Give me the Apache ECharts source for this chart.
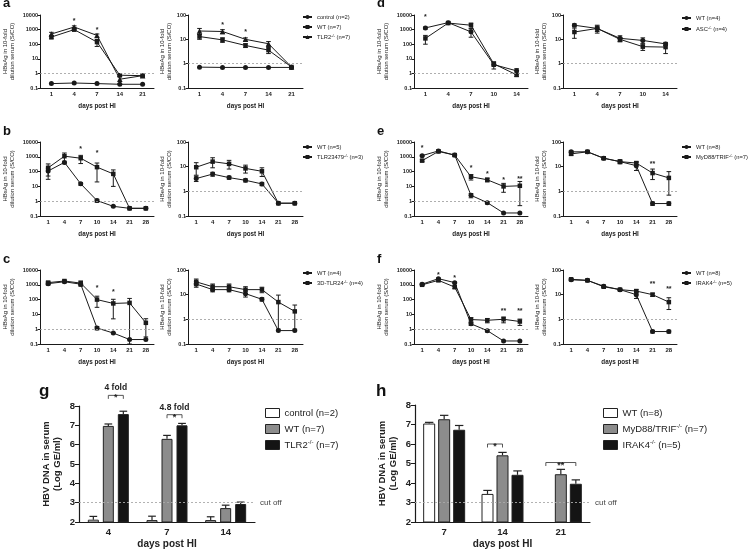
<!DOCTYPE html>
<html><head><meta charset="utf-8">
<script src="https://cdn.jsdelivr.net/npm/echarts@6/dist/echarts.min.js"></script>
<style>html,body{margin:0;padding:0;background:#fff}#c{width:751px;height:551px}</style>
</head><body><div id="c"></div>
<script>
// ================= DATA =================
const daysA = ['1','4','7','14','21'];
const daysLong = ['1','4','7','10','14','21','28'];
const daysD = ['1','4','7','10','14'];

// panel a
const aNames = ['control (n=2)', 'WT (n=7)', 'TLR2-/- (n=7)'];
const aS_ctrl = [0.2, 0.22, 0.2, 0.18, 0.18];
const aS_wt = [310, 1000, 140, 0.75, 0.7];
const aS_wtErr = [80, 200, 70, 0.15, 0.05];
const aS_ko = [500, 1500, 400, 0.4, 0.7];
const aS_koErr = [150, 300, 100, 0.2, 0.05];
const aS_stars = [[1, 3900, '*'], [2, 1000, '*']];
const aE_ctrl = [0.72, 0.7, 0.7, 0.7, 0.7];
const aE_wt = [13, 9.5, 5.6, 3.6, 0.73];
const aE_wtErr = [3, 2, 1, 1, 0.02];
const aE_ko = [22, 21, 10, 6.6, 0.73];
const aE_koErr = [6, 4, 1.5, 1.5, 0.02];
const aE_stars = [[1, 40, '*'], [2, 20, '*']];

// panel b
const bNames = ['WT (n=5)', 'TLR23479-/- (n=3)'];
const bS_wt = [110, 420, 15, 1.1, 0.45, 0.33, 0.33];
const bS_wtErr = [60, 80, 3, 0.25, 0.03, 0, 0];
const bS_ko = [180, 1100, 800, 200, 70, 0.33, 0.33];
const bS_koErr = [150, 700, 450, 180, 60, 0, 0];
const bS_stars = [[2, 3500, '*'], [3, 1800, '*']];
const bE_wt = [3.3, 5, 3.6, 2.8, 2, 0.33, 0.33];
const bE_wtErr = [0.8, 0.9, 0.5, 0.4, 0.3, 0, 0];
const bE_ko = [9.5, 16, 13, 8.5, 6.5, 0.33, 0.33];
const bE_koErr = [5, 7, 5, 3, 2.5, 0, 0];

// panel c
const cNames = ['WT (n=4)', '3D-TLR24-/- (n=4)'];
const cS_wt = [1200, 1600, 1100, 1.2, 0.55, 0.2, 0.2];
const cS_wtErr = [250, 200, 150, 0.3, 0.02, 0, 0];
const cS_ko = [1400, 1800, 1300, 100, 55, 60, 2.7];
const cS_koErr = [300, 300, 500, 70, 50, 60, 2.4];
const cS_stars = [[3, 650, '*'], [4, 300, '*']];
const cE_wt = [27, 16, 16, 11, 6.5, 0.35, 0.35];
const cE_wtErr = [7, 3, 3, 3, 1, 0, 0];
const cE_ko = [33, 21, 21, 16, 16, 5, 2.1];
const cE_koErr = [10, 6, 6, 5, 4, 4.6, 1.7];

// panel d
const dNames = ['WT (n=4)', 'ASC-/- (n=4)'];
const dS_wt = [1300, 3000, 700, 4, 1.5];
const dS_wtErr = [200, 400, 400, 2, 0.6];
const dS_ko = [250, 2800, 2000, 4.5, 0.8];
const dS_koErr = [150, 300, 800, 1.5, 0.2];
const dS_stars = [[0, 7300, '*']];
const dE_wt = [38, 28, 11, 9, 6.5];
const dE_wtErr = [5, 10, 3, 2.5, 1];
const dE_ko = [20, 28, 10, 5, 4.8];
const dE_koErr = [9, 7, 2, 1.5, 2.2];

// panel e
const eNames = ['WT (n=8)', 'MyD88/TRIF-/- (n=7)'];
const eS_wt = [1200, 2500, 1300, 2.5, 0.8, 0.16, 0.16];
const eS_wtErr = [100, 300, 200, 0.8, 0.15, 0, 0];
const eS_ko = [550, 2300, 1300, 45, 28, 10, 11];
const eS_koErr = [80, 300, 150, 18, 8, 6, 10.5];
const eS_stars = [[0, 4100, '*'], [3, 180, '*'], [4, 70, '*'], [5, 27, '*'], [6, 32, '**']];
const eE_wt = [40, 40, 22, 16, 11, 0.32, 0.32];
const eE_wtErr = [4, 3, 2, 2, 4, 0.05, 0.05];
const eE_ko = [33, 40, 22, 16, 14, 5.5, 3.5];
const eE_koErr = [4, 3, 2, 3, 2, 2.5, 2.8];
const eE_stars = [[5, 13, '**']];

// panel f
const fNames = ['WT (n=8)', 'IRAK4-/- (n=5)'];
const fS_wt = [1100, 2600, 1400, 2.3, 0.8, 0.16, 0.16];
const fS_wtErr = [100, 300, 150, 0.5, 0.15, 0, 0];
const fS_ko = [1000, 2000, 700, 4.5, 4, 4.7, 3.3];
const fS_koErr = [100, 300, 150, 1.5, 1.3, 2, 1.5];
const fS_stars = [[1, 4600, '*'], [2, 3000, '*'], [5, 16, '**'], [6, 16, '**']];
const fE_wt = [40, 38, 22, 16, 10, 0.32, 0.32];
const fE_wtErr = [3, 2, 2, 1, 3, 0.04, 0.04];
const fE_ko = [42, 38, 21, 16, 14, 10, 5];
const fE_koErr = [3, 2, 2, 1, 2, 1.5, 2.5];
const fE_stars = [[5, 26, '**'], [6, 17, '**']];

// panel g (bars)
const gCats = ['4', '7', '14'];
const gNames = ['control (n=2)', 'WT (n=7)', 'TLR2-/- (n=7)'];
const gCtrl = [2.12, 2.1, 2.1];
const gCtrlErr = [0.17, 0.2, 0.17];
const gWT = [6.97, 6.3, 2.72];
const gWTErr = [0.1, 0.18, 0.15];
const gKO = [7.58, 7.0, 2.93];
const gKOErr = [0.15, 0.1, 0.1];
const gBrackets = [[0, 1, 2, 8.55, '*', '4 fold'], [1, 1, 2, 7.55, '*', '4.8 fold']];

// panel h (bars)
const hCats = ['7', '14', '21'];
const hNames = ['WT (n=8)', 'MyD88/TRIF-/- (n=7)', 'IRAK4-/- (n=5)'];
const hWT = [7.05, 3.44, 2.02];
const hWTErr = [0.06, 0.18, 0];
const hMyD = [7.27, 5.42, 4.45];
const hMyDErr = [0.2, 0.15, 0.25];
const hIRAK = [6.73, 4.42, 3.96];
const hIRAKErr = [0.22, 0.2, 0.2];
const hBrackets = [[1, 0, 1, 6.0, '*', ''], [2, 0, 2, 5.05, '**', '']];

const cutOff = 3;

// ================= BUILD =================
const FONT = "'Liberation Sans', Arial, sans-serif";
const INK = '#1a1a1a';
const grids = [], xAxes = [], yAxes = [], series = [], legends = [], titles = [];
const Z = '\u200b';
let uid = 0;
function uniq(n){ uid++; return n + Z.repeat(uid); }
function legendFmt(n){
  n = n.replace(/\u200b/g, '');
  return n.replace('-/-', '{sup|-/-}');
}
const sNameS = 'HBsAg in 10-fold\ndilution serum (S/CO)';
const sNameE = 'HBeAg in 10-fold\ndilution serum (S/CO)';

function errRender(yMin){
  return function(params, api){
    const i = api.value(0), m = api.value(1), e = api.value(2);
    if (!e) return null;
    const lo = Math.max(m - e, yMin), hi = m + e;
    const pH = api.coord([i, hi]), pL = api.coord([i, lo]);
    const x = pH[0], st = {stroke: INK, lineWidth: 1};
    return {type: 'group', children: [
      {type: 'line', shape: {x1: x, y1: pH[1], x2: x, y2: pL[1]}, style: st},
      {type: 'line', shape: {x1: x - 2.3, y1: pH[1], x2: x + 2.3, y2: pH[1]}, style: st},
      {type: 'line', shape: {x1: x - 2.3, y1: pL[1], x2: x + 2.3, y2: pL[1]}, style: st}
    ]};
  };
}

function addLinePanel(p){
  const gi = grids.length;
  grids.push({left: p.left, top: p.top, width: p.width, height: p.height});
  xAxes.push({type: 'category', gridIndex: gi, data: p.cats, boundaryGap: true,
    axisLine: {lineStyle: {color: INK, width: 1}},
    axisTick: {alignWithLabel: true, length: 2.5, lineStyle: {color: INK}},
    axisLabel: {fontSize: 6, fontWeight: 'bold', color: '#222', margin: 3, fontFamily: FONT, interval: 0},
    name: 'days post HI', nameLocation: 'middle', nameGap: 15,
    nameTextStyle: {fontSize: 6.3, fontWeight: 'bold', color: '#222', fontFamily: FONT}});
  yAxes.push({type: 'log', logBase: 10, gridIndex: gi, min: p.yMin, max: p.yMax,
    axisLine: {show: true, lineStyle: {color: INK, width: 1}},
    axisTick: {show: true, length: 2.5, lineStyle: {color: INK}},
    splitLine: {show: false},
    axisLabel: {fontSize: 5.5, fontWeight: 'bold', color: '#222', margin: 2, fontFamily: FONT,
      formatter: v => String(+(+v).toPrecision(4))},
    name: p.yName, nameLocation: 'middle', nameGap: p.nameGap, nameRotate: 90,
    nameTextStyle: {fontSize: 6, color: '#222', fontFamily: FONT, lineHeight: 7}});
  const legendNames = [];
  p.series.forEach((s, k) => {
    const nm = uniq(s.name);
    legendNames.push(nm);
    const ser = {type: 'line', name: nm, xAxisIndex: gi, yAxisIndex: gi, data: s.data,
      symbol: s.sym, symbolSize: s.size || 5, itemStyle: {color: INK}, lineStyle: {color: INK, width: 1},
      z: 3, animation: false};
    if (k === 0) ser.markLine = {silent: true, symbol: ['none', 'none'], animation: false,
      lineStyle: {type: [2, 2], color: '#9a9a9a', width: 0.8}, label: {show: false}, data: [{yAxis: 1}]};
    series.push(ser);
    if (s.err) series.push({type: 'custom', xAxisIndex: gi, yAxisIndex: gi, silent: true, z: 2, animation: false,
      data: s.data.map((v, i) => [i, v, s.err[i]]), encode: {x: 0, y: 1}, renderItem: errRender(p.yMin)});
  });
  if (p.stars) {
    const st = p.stars;
    series.push({type: 'custom', xAxisIndex: gi, yAxisIndex: gi, silent: true, z: 4, animation: false,
      data: st.map(s => [s[0], s[1]]), encode: {x: 0, y: 1},
      renderItem: (params, api) => {
        const c = api.coord([api.value(0), api.value(1)]);
        return {type: 'text', x: c[0], y: c[1], style: {text: st[params.dataIndex][2], fill: '#222',
          font: 'bold 7px ' + FONT, align: 'center', verticalAlign: 'middle', textAlign: 'center', textVerticalAlign: 'middle'}};
      }});
  }
  if (p.legend) legends.push({data: legendNames, left: p.legend[0], top: p.legend[1], orient: 'vertical',
    itemWidth: 9, itemHeight: 5, itemGap: p.legend[2] || 4, padding: 0,
    formatter: legendFmt,
    textStyle: {fontSize: 5.8, color: '#222', fontFamily: FONT, lineHeight: 6,
      rich: {sup: {fontSize: 4, verticalAlign: 'top', lineHeight: 6, padding: [0, 0, 3, 0]}}}});
}

const cols = [[40, 114], [188, 115], [414, 114], [563, 114]];
const rows = [[15, 73], [142, 74], [270, 74]];
function L(col, row, extra){
  return Object.assign({left: cols[col][0], width: cols[col][1], top: rows[row][0], height: rows[row][1]}, extra);
}
const gapS = 24, gapE = 10;
// a
addLinePanel(L(0, 0, {cats: daysA, yMin: 0.1, yMax: 10000, yName: sNameS, nameGap: gapS, stars: aS_stars, series: [
  {name: aNames[0], data: aS_ctrl, sym: 'circle'},
  {name: aNames[1], data: aS_wt, err: aS_wtErr, sym: 'rect', size: 4.5},
  {name: aNames[2], data: aS_ko, err: aS_koErr, sym: 'triangle', size: 5.5}]}));
addLinePanel(L(1, 0, {cats: daysA, yMin: 0.1, yMax: 100, yName: sNameE, nameGap: gapE, stars: aE_stars, legend: [302, 14, 4], series: [
  {name: aNames[0], data: aE_ctrl, sym: 'circle'},
  {name: aNames[1], data: aE_wt, err: aE_wtErr, sym: 'rect', size: 4.5},
  {name: aNames[2], data: aE_ko, err: aE_koErr, sym: 'triangle', size: 5.5}]}));
// b
addLinePanel(L(0, 1, {cats: daysLong, yMin: 0.1, yMax: 10000, yName: sNameS, nameGap: gapS, stars: bS_stars, series: [
  {name: bNames[0], data: bS_wt, err: bS_wtErr, sym: 'circle'},
  {name: bNames[1], data: bS_ko, err: bS_koErr, sym: 'rect', size: 4.5}]}));
addLinePanel(L(1, 1, {cats: daysLong, yMin: 0.1, yMax: 100, yName: sNameE, nameGap: gapE, legend: [302, 144, 4], series: [
  {name: bNames[0], data: bE_wt, err: bE_wtErr, sym: 'circle'},
  {name: bNames[1], data: bE_ko, err: bE_koErr, sym: 'rect', size: 4.5}]}));
// c
addLinePanel(L(0, 2, {cats: daysLong, yMin: 0.1, yMax: 10000, yName: sNameS, nameGap: gapS, stars: cS_stars, series: [
  {name: cNames[0], data: cS_wt, err: cS_wtErr, sym: 'circle'},
  {name: cNames[1], data: cS_ko, err: cS_koErr, sym: 'rect', size: 4.5}]}));
addLinePanel(L(1, 2, {cats: daysLong, yMin: 0.1, yMax: 100, yName: sNameE, nameGap: gapE, legend: [302, 270, 4], series: [
  {name: cNames[0], data: cE_wt, err: cE_wtErr, sym: 'circle'},
  {name: cNames[1], data: cE_ko, err: cE_koErr, sym: 'rect', size: 4.5}]}));
// d
addLinePanel(L(2, 0, {cats: daysD, yMin: 0.1, yMax: 10000, yName: sNameS, nameGap: gapS, stars: dS_stars, series: [
  {name: dNames[0], data: dS_wt, err: dS_wtErr, sym: 'circle'},
  {name: dNames[1], data: dS_ko, err: dS_koErr, sym: 'rect', size: 4.5}]}));
addLinePanel(L(3, 0, {cats: daysD, yMin: 0.1, yMax: 100, yName: sNameE, nameGap: gapE, legend: [681, 15, 5], series: [
  {name: dNames[0], data: dE_wt, err: dE_wtErr, sym: 'circle'},
  {name: dNames[1], data: dE_ko, err: dE_koErr, sym: 'rect', size: 4.5}]}));
// e
addLinePanel(L(2, 1, {cats: daysLong, yMin: 0.1, yMax: 10000, yName: sNameS, nameGap: gapS, stars: eS_stars, series: [
  {name: eNames[0], data: eS_wt, err: eS_wtErr, sym: 'circle'},
  {name: eNames[1], data: eS_ko, err: eS_koErr, sym: 'rect', size: 4.5}]}));
addLinePanel(L(3, 1, {cats: daysLong, yMin: 0.1, yMax: 100, yName: sNameE, nameGap: gapE, stars: eE_stars, legend: [681, 144, 4], series: [
  {name: eNames[0], data: eE_wt, err: eE_wtErr, sym: 'circle'},
  {name: eNames[1], data: eE_ko, err: eE_koErr, sym: 'rect', size: 4.5}]}));
// f
addLinePanel(L(2, 2, {cats: daysLong, yMin: 0.1, yMax: 10000, yName: sNameS, nameGap: gapS, stars: fS_stars, series: [
  {name: fNames[0], data: fS_wt, err: fS_wtErr, sym: 'circle'},
  {name: fNames[1], data: fS_ko, err: fS_koErr, sym: 'rect', size: 4.5}]}));
addLinePanel(L(3, 2, {cats: daysLong, yMin: 0.1, yMax: 100, yName: sNameE, nameGap: gapE, stars: fE_stars, legend: [681, 270, 4], series: [
  {name: fNames[0], data: fE_wt, err: fE_wtErr, sym: 'circle'},
  {name: fNames[1], data: fE_ko, err: fE_koErr, sym: 'rect', size: 4.5}]}));

// ---- bar panels ----
function addBarPanel(p){
  const gi = grids.length;
  grids.push({left: p.left, top: p.top, width: p.width, height: p.height});
  xAxes.push({type: 'category', gridIndex: gi, data: p.cats,
    axisLine: {lineStyle: {color: INK, width: 1.2}},
    axisTick: {alignWithLabel: true, length: 3, lineStyle: {color: INK}},
    axisLabel: {fontSize: 9.5, fontWeight: 'bold', color: '#222', margin: 5, fontFamily: FONT},
    name: 'days post HI', nameLocation: 'middle', nameGap: 17,
    nameTextStyle: {fontSize: 10, fontWeight: 'bold', color: '#222', fontFamily: FONT}});
  yAxes.push({type: 'value', gridIndex: gi, min: 2, max: 8, interval: 1,
    axisLine: {show: true, lineStyle: {color: INK, width: 1.2}},
    axisTick: {show: true, length: 4, lineStyle: {color: INK}},
    splitLine: {show: false},
    axisLabel: {fontSize: 9.5, fontWeight: 'bold', color: '#222', margin: 4, fontFamily: FONT},
    name: 'HBV DNA in serum\n(Log GE/ml)', nameLocation: 'middle', nameGap: 16, nameRotate: 90,
    nameTextStyle: {fontSize: 9.5, fontWeight: 'bold', color: '#222', fontFamily: FONT, lineHeight: 11}});
  const w = p.barW, g = p.gap;
  const names = [];
  p.groups.forEach((grp, k) => {
    const nm = uniq(grp.name);
    names.push(nm);
    const ser = {type: 'bar', name: nm, xAxisIndex: gi, yAxisIndex: gi, data: grp.data,
      barWidth: w, barGap: (g / w * 100) + '%', animation: false, z: 2,
      itemStyle: {color: grp.color, borderColor: '#222', borderWidth: 1}};
    if (k === 0) ser.markLine = {silent: true, symbol: ['none', 'none'], animation: false,
      lineStyle: {type: [2, 2], color: '#aaaaaa', width: 0.9},
      label: {show: true, position: 'end', formatter: 'cut off', fontSize: 8, color: '#444', fontFamily: FONT, distance: 5},
      data: [{yAxis: cutOff}]};
    series.push(ser);
    const off = (k - 1) * (w + g);
    series.push({type: 'custom', xAxisIndex: gi, yAxisIndex: gi, silent: true, z: 1, animation: false,
      data: grp.data.map((v, i) => [i, v, grp.err[i]]), encode: {x: 0, y: 1},
      renderItem: (params, api) => {
        const e = api.value(2);
        if (!e) return null;
        const pM = api.coord([api.value(0), api.value(1)]);
        const pH = api.coord([api.value(0), api.value(1) + e]);
        const x = pM[0] + off, st = {stroke: '#222', lineWidth: 1.2};
        return {type: 'group', children: [
          {type: 'line', shape: {x1: x, y1: pM[1], x2: x, y2: pH[1]}, style: st},
          {type: 'line', shape: {x1: x - w * 0.35, y1: pH[1], x2: x + w * 0.35, y2: pH[1]}, style: st}]};
      }});
  });
  const br = p.brackets;
  series.push({type: 'custom', xAxisIndex: gi, yAxisIndex: gi, silent: true, z: 5, animation: false,
    data: br.map(b => [b[0], b[3]]), encode: {x: 0, y: 1},
    renderItem: (params, api) => {
      const b = br[params.dataIndex];
      const c = api.coord([api.value(0), api.value(1)]);
      const x1 = c[0] + (b[1] - 1) * (w + g), x2 = c[0] + (b[2] - 1) * (w + g), y = c[1];
      const kids = [
        {type: 'polyline', shape: {points: [[x1, y + 3.5], [x1, y], [x2, y], [x2, y + 3.5]]}, style: {stroke: '#444', lineWidth: 0.9, fill: null}},
        {type: 'text', x: (x1 + x2) / 2, y: y + 2.5, style: {text: b[4], fill: '#222', font: 'bold 9px ' + FONT,
          align: 'center', verticalAlign: 'middle', textAlign: 'center', textVerticalAlign: 'middle'}}];
      if (b[5]) kids.push({type: 'text', x: (x1 + x2) / 2, y: y - 3, style: {text: b[5], fill: '#222', font: 'bold 8.5px ' + FONT,
        align: 'center', verticalAlign: 'bottom', textAlign: 'center', textVerticalAlign: 'bottom'}});
      return {type: 'group', children: kids};
    }});
  legends.push({data: names, left: p.legend[0], top: p.legend[1], orient: 'vertical', icon: 'rect',
    itemWidth: 14, itemHeight: 9, itemGap: 4, padding: 0, formatter: legendFmt,
    itemStyle: {borderColor: '#222', borderWidth: 1},
    textStyle: {fontSize: 9.5, color: '#222', fontFamily: FONT, lineHeight: 12,
      rich: {sup: {fontSize: 6, verticalAlign: 'top', lineHeight: 12, padding: [0, 0, 5, 0]}}}});
}

addBarPanel({left: 79, top: 406, width: 176, height: 116, cats: gCats, barW: 11, gap: 4,
  brackets: gBrackets, legend: [265, 407], groups: [
    {name: gNames[0], data: gCtrl, err: gCtrlErr, color: '#ffffff'},
    {name: gNames[1], data: gWT, err: gWTErr, color: '#8c8c8c'},
    {name: gNames[2], data: gKO, err: gKOErr, color: '#141414'}]});
addBarPanel({left: 415, top: 405, width: 175, height: 117, cats: hCats, barW: 12, gap: 3,
  brackets: hBrackets, legend: [603, 407], groups: [
    {name: hNames[0], data: hWT, err: hWTErr, color: '#ffffff'},
    {name: hNames[1], data: hMyD, err: hMyDErr, color: '#8c8c8c'},
    {name: hNames[2], data: hIRAK, err: hIRAKErr, color: '#141414'}]});

// panel letters
[['a', 3, -3, 13], ['b', 3, 125, 13], ['c', 3, 253, 13], ['d', 377, -3, 13], ['e', 377, 125, 13], ['f', 377, 253, 13],
 ['g', 39, 383, 17], ['h', 376, 383, 17]].forEach(t => titles.push({text: t[0], left: t[1], top: t[2], padding: 0,
  textStyle: {fontSize: t[3], fontWeight: 'bold', color: '#111', fontFamily: FONT}}));

const chart = echarts.init(document.getElementById('c'), null, {renderer: 'canvas'});
chart.setOption({animation: false, backgroundColor: '#fff', textStyle: {fontFamily: FONT},
  title: titles, grid: grids, xAxis: xAxes, yAxis: yAxes, legend: legends, series: series});
</script></body></html>
